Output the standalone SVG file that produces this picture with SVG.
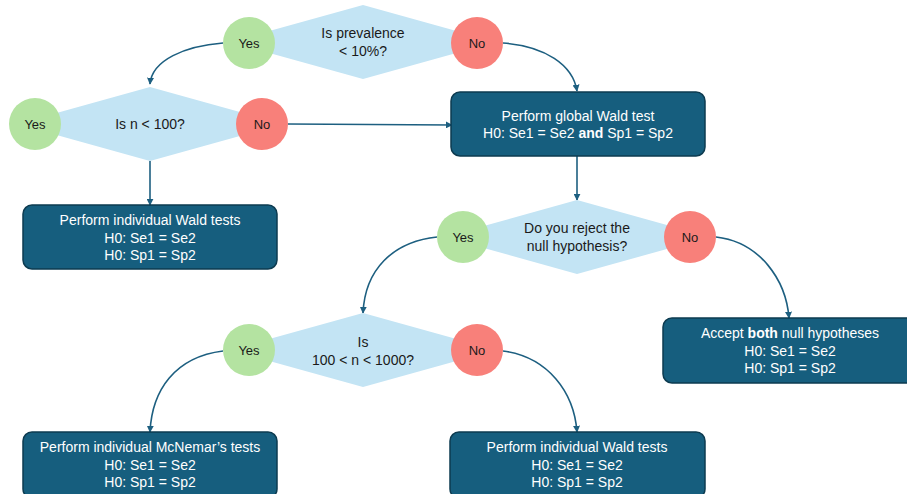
<svg xmlns="http://www.w3.org/2000/svg" width="907" height="494" viewBox="0 0 907 494">
<style>
.dia{fill:#c3e4f4}
.yes{fill:#b4e3a1}
.no{fill:#f8807a}
.box{fill:#165e7e;stroke:#0d3b50;stroke-width:1.5}
.ct{font-family:"Liberation Sans",Arial,sans-serif;font-size:13px;fill:#1a1a1a;text-anchor:middle}
.dt{font-family:"Liberation Sans",Arial,sans-serif;font-size:14px;fill:#1a1a1a;text-anchor:middle}
.bt{font-family:"Liberation Sans",Arial,sans-serif;font-size:14px;fill:#ffffff;text-anchor:middle}
.conn{fill:none;stroke:#1d5f80;stroke-width:1.6}
</style>
<defs>
<marker id="ah" viewBox="0 0 10 10" refX="9" refY="5" markerWidth="7" markerHeight="7" orient="auto" markerUnits="userSpaceOnUse">
<path d="M0,0 L10,5 L0,10 z" fill="#1d5f80"/>
</marker>
</defs>
<rect width="907" height="494" fill="#ffffff"/>
<g id="connectors">
<path class="conn" marker-end="url(#ah)" d="M223,43 C185,46 152,60 150,84"/>
<path class="conn" marker-end="url(#ah)" d="M503,43 C545,46 573,65 577,91"/>
<path class="conn" marker-end="url(#ah)" d="M150,161 L150,205"/>
<path class="conn" marker-end="url(#ah)" d="M288,124 L452,125"/>
<path class="conn" marker-end="url(#ah)" d="M577,156 L577,200"/>
<path class="conn" marker-end="url(#ah)" d="M716,237 C760,242 786,280 789,318"/>
<path class="conn" marker-end="url(#ah)" d="M437,237 C392,242 365,270 363,313"/>
<path class="conn" marker-end="url(#ah)" d="M223,351 C175,357 152,390 150,432"/>
<path class="conn" marker-end="url(#ah)" d="M503,351 C548,357 574,392 577,432"/>
</g>
<g id="q1">
<polygon class="dia" points="363,5 496,42 363,79 230,42"/>
<text class="dt" x="363" y="38">Is prevalence</text>
<text class="dt" x="363" y="56">&lt; 10%?</text>
</g>
<g id="q1-yes"><circle class="yes" cx="249" cy="43" r="26"/><text class="ct" x="249" y="47.5">Yes</text></g>
<g id="q1-no"><circle class="no" cx="477" cy="43" r="26"/><text class="ct" x="477" y="47.5">No</text></g>
<g id="q2">
<polygon class="dia" points="150,87 283,124 150,161 17,124"/>
<text class="dt" x="150" y="129">Is n &lt; 100?</text>
</g>
<g id="q2-yes"><circle class="yes" cx="35" cy="124" r="26"/><text class="ct" x="35" y="128.5">Yes</text></g>
<g id="q2-no"><circle class="no" cx="262" cy="124" r="26"/><text class="ct" x="262" y="128.5">No</text></g>
<g id="box-wald1">
<rect class="box" x="23" y="205" width="254" height="64" rx="9"/>
<text class="bt" x="150" y="225">Perform individual Wald tests</text>
<text class="bt" x="150" y="243">H0: Se1 = Se2</text>
<text class="bt" x="150" y="260">H0: Sp1 = Sp2</text>
</g>
<g id="box-global">
<rect class="box" x="451" y="92" width="254" height="64" rx="9"/>
<text class="bt" x="578" y="121">Perform global Wald test</text>
<text class="bt" x="578" y="138">H0: Se1 = Se2 <tspan font-weight="bold">and</tspan> Sp1 = Sp2</text>
</g>
<g id="q3">
<polygon class="dia" points="577,200 710,237 577,274 444,237"/>
<text class="dt" x="577" y="233">Do you reject the</text>
<text class="dt" x="577" y="251">null hypothesis?</text>
</g>
<g id="q3-yes"><circle class="yes" cx="463" cy="237" r="26"/><text class="ct" x="463" y="241.5">Yes</text></g>
<g id="q3-no"><circle class="no" cx="690" cy="237" r="26"/><text class="ct" x="690" y="241.5">No</text></g>
<g id="box-accept">
<rect class="box" x="663" y="318" width="254" height="65" rx="9"/>
<text class="bt" x="790" y="338">Accept <tspan font-weight="bold">both</tspan> null hypotheses</text>
<text class="bt" x="790" y="356">H0: Se1 = Se2</text>
<text class="bt" x="790" y="373">H0: Sp1 = Sp2</text>
</g>
<g id="q4">
<polygon class="dia" points="363,313 496,350 363,387 230,350"/>
<text class="dt" x="363" y="347">Is</text>
<text class="dt" x="363" y="365">100 &lt; n &lt; 1000?</text>
</g>
<g id="q4-yes"><circle class="yes" cx="249" cy="350" r="26"/><text class="ct" x="249" y="354.5">Yes</text></g>
<g id="q4-no"><circle class="no" cx="477" cy="350" r="26"/><text class="ct" x="477" y="354.5">No</text></g>
<g id="box-mcnemar">
<rect class="box" x="23" y="432" width="254" height="66" rx="9"/>
<text class="bt" x="150" y="452">Perform individual McNemar’s tests</text>
<text class="bt" x="150" y="470">H0: Se1 = Se2</text>
<text class="bt" x="150" y="487">H0: Sp1 = Sp2</text>
</g>
<g id="box-wald2">
<rect class="box" x="450" y="432" width="255" height="66" rx="9"/>
<text class="bt" x="577" y="452">Perform individual Wald tests</text>
<text class="bt" x="577" y="470">H0: Se1 = Se2</text>
<text class="bt" x="577" y="487">H0: Sp1 = Sp2</text>
</g>
</svg>
